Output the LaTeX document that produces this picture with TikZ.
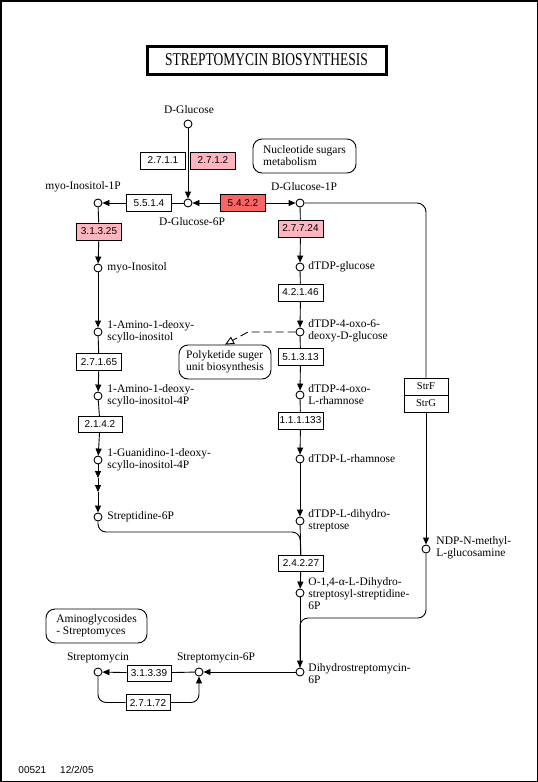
\documentclass[tikz,border=0pt]{standalone}
\usepackage{fontspec}
\usepackage{graphicx}
\setmainfont{Liberation Serif}
\setsansfont{Liberation Sans}
\usetikzlibrary{arrows.meta}
\definecolor{ecpink}{RGB}{255,180,190}
\definecolor{ecred}{RGB}{250,100,100}
\tikzset{
  cpd/.style={circle,draw,fill=white,inner sep=0pt,minimum size=8pt,line width=0.9pt},
  ec/.style={draw,fill=white,inner sep=0pt,minimum width=45pt,minimum height=17pt,line width=0.9pt,font=\sffamily\fontsize{10}{10}\selectfont},
  lbl/.style={inner sep=0pt,align=left,font=\fontsize{11.5}{12}\selectfont},
  mapbox/.style={draw,rounded corners=9pt,inner sep=0pt,align=left,line width=0.9pt,font=\fontsize{11.5}{12}\selectfont},
  arr/.style={-{Triangle[length=7pt,width=6pt]}},
  openarr/.style={-{Triangle[open,length=9pt,width=8pt]}},
  conn/.style={line width=0.9pt},
}
\begin{document}
\begin{tikzpicture}[x=1pt,y=-1pt,conn]
\useasboundingbox (0,0) rectangle (538,782);
\draw[line width=1.5pt] (0.75,0.75) rectangle (537.25,781.25);
% title
\node[draw,line width=3pt,minimum width=239pt,minimum height=28pt,inner sep=0pt] (title) at (266.5,60)
  {\scalebox{0.75}[1]{\fontsize{18}{18}\selectfont STREPTOMYCIN BIOSYNTHESIS}};
% compounds
\node[cpd] (glc) at (188,124) {};
\node[cpd] (g6p) at (188,203) {};
\node[cpd] (g1p) at (300,203) {};
\node[cpd] (mi1p) at (98,203) {};
\node[cpd] (mi) at (98,268) {};
\node[cpd] (aminoi) at (98,332) {};
\node[cpd] (amino4p) at (98,396) {};
\node[cpd] (guan) at (98,460) {};
\node[cpd] (strep6p) at (98,517) {};
\node[cpd] (dtdpg) at (300,267) {};
\node[cpd] (oxo6) at (300,332) {};
\node[cpd] (oxoL) at (300,395) {};
\node[cpd] (rham) at (300,459) {};
\node[cpd] (dihydro) at (300,521) {};
\node[cpd] (o14) at (300,593) {};
\node[cpd] (dhs6p) at (300,672) {};
\node[cpd] (s6p) at (199,672) {};
\node[cpd] (strep) at (98,672) {};
\node[cpd] (ndp) at (426,549) {};
% compound labels
\node[lbl] (lglc) at (189,110) {D-Glucose};
\node[lbl] (lmi1p) at (83,187) {myo-Inositol-1P};
\node[lbl] (lg1p) at (304,187) {D-Glucose-1P};
\node[lbl] (lg6p) at (192,222) {D-Glucose-6P};
\node[lbl,anchor=west] (lmi) at (107,268) {myo-Inositol};
\node[lbl,anchor=west] (laminoi) at (107,332) {1-Amino-1-deoxy-\\scyllo-inositol};
\node[lbl,anchor=west] (lamino4p) at (107,396) {1-Amino-1-deoxy-\\scyllo-inositol-4P};
\node[lbl,anchor=west] (lguan) at (107,460) {1-Guanidino-1-deoxy-\\scyllo-inositol-4P};
\node[lbl,anchor=west] (lstrep6p) at (107,517) {Streptidine-6P};
\node[lbl,anchor=west] (ldtdpg) at (308,267) {dTDP-glucose};
\node[lbl,anchor=west] (loxo6) at (308,331) {dTDP-4-oxo-6-\\deoxy-D-glucose};
\node[lbl,anchor=west] (loxoL) at (308,395) {dTDP-4-oxo-\\L-rhamnose};
\node[lbl,anchor=west] (lrham) at (308,459) {dTDP-L-rhamnose};
\node[lbl,anchor=west] (ldihydro) at (308,521) {dTDP-L-dihydro-\\streptose};
\node[lbl,anchor=west] (lo14) at (308,594) {O-1,4-α-L-Dihydro-\\streptosyl-streptidine-\\6P};
\node[lbl,anchor=west] (ldhs6p) at (308,674) {Dihydrostreptomycin-\\6P};
\node[lbl,anchor=west] (lndp) at (436,548) {NDP-N-methyl-\\L-glucosamine};
\node[lbl] (lstrep) at (98,658) {Streptomycin};
\node[lbl] (ls6p) at (216,658) {Streptomycin-6P};
% enzymes
\node[ec] (e2711) at (163,160.5) {2.7.1.1};
\node[ec,fill=ecpink] (e2712) at (213,160.5) {2.7.1.2};
\node[ec] (e5514) at (149,203) {5.5.1.4};
\node[ec,fill=ecred] (e5422) at (243,203) {5.4.2.2};
\node[ec,fill=ecpink] (e31325) at (99,231.5) {3.1.3.25};
\node[ec] (e27165) at (99,362) {2.7.1.65};
\node[ec,minimum width=44pt,minimum height=16pt] (e2142) at (100,424.5) {2.1.4.2};
\node[ec,fill=ecpink] (e27724) at (300.5,228.5) {2.7.7.24};
\node[ec] (e42146) at (300.5,292.5) {4.2.1.46};
\node[ec] (e51313) at (300.5,357) {5.1.3.13};
\node[ec] (e111133) at (300.5,420.5) {1.1.1.133};
\node[ec,minimum height=16pt] (e24227) at (301,563.5) {2.4.2.27};
\node[ec,minimum width=44pt,minimum height=16pt] (e31339) at (149,673) {3.1.3.39};
\node[ec,minimum width=44pt,minimum height=16pt] (e27172) at (148,702.5) {2.7.1.72};
\node[ec,minimum width=44pt,minimum height=17pt,font=\fontsize{10.5}{10.5}\selectfont] (strf) at (426,386.5) {StrF};
\node[ec,minimum width=44pt,minimum height=17pt,font=\fontsize{10.5}{10.5}\selectfont] (strg) at (426,403.5) {StrG};
% map boxes
\node[mapbox,minimum width=103pt,minimum height=34pt] (nuc) at (304.5,156) {Nucleotide sugars\\metabolism};
\node[mapbox,minimum width=92pt,minimum height=34pt] (pk) at (225,362) {Polyketide suger\\unit biosynthesis};
\node[mapbox,minimum width=101pt,minimum height=34pt] (amg) at (96.5,626) {Aminoglycosides\\- Streptomyces};
% footer
\node[inner sep=0pt,anchor=west,font=\sffamily\fontsize{10}{10}\selectfont] (foot) at (18,770) {00521\hspace{14pt}12/2/05};
% junction coordinates
\coordinate (m1) at (98,478);
\coordinate (m2) at (98,492);
\coordinate (jn1) at (300,532);
\coordinate (jn2) at (300,618);
\coordinate (cr1) at (426,203);
\coordinate (dc) at (248,332);
% connectors
\draw[arr] (glc) -- (g6p);
\draw (g6p) -- (e5514);
\draw[arr] (e5514) -- (mi1p);
\draw[arr] (e5422) -- (g6p);
\draw[arr] (e5422) -- (g1p);
\draw (mi1p) -- (e31325);
\draw[arr] (e31325) -- (mi);
\draw[arr] (mi) -- (aminoi);
\draw (aminoi) -- (e27165);
\draw[arr] (e27165) -- (amino4p);
\draw (amino4p) -- (e2142);
\draw[arr] (e2142) -- (guan);
\draw[arr] (guan) -- (m1);
\draw[arr] (m1) -- (m2);
\draw[arr] (m2) -- (strep6p);
\draw[rounded corners=8pt] (strep6p) |- (jn1) -- (e24227);
\draw (g1p) -- (e27724);
\draw[arr] (e27724) -- (dtdpg);
\draw (dtdpg) -- (e42146);
\draw[arr] (e42146) -- (oxo6);
\draw (oxo6) -- (e51313);
\draw[arr] (e51313) -- (oxoL);
\draw (oxoL) -- (e111133);
\draw[arr] (e111133) -- (rham);
\draw[arr] (rham) -- (dihydro);
\draw (dihydro) -- (e24227);
\draw[arr] (e24227) -- (o14);
\draw[arr] (o14) -- (dhs6p);
\draw[rounded corners=9pt] (g1p) -- (cr1) -- (strf);
\draw[arr] (strg) -- (ndp);
\draw[rounded corners=8pt] (ndp) |- (jn2) -- (dhs6p);
\draw[arr] (dhs6p) -- (s6p);
\draw (s6p) -- (e31339);
\draw[arr] (e31339) -- (strep);
\draw[rounded corners=8pt] (strep) |- (e27172);
\draw[arr,rounded corners=8pt] (e27172) -| (s6p);
\draw[dashed,dash pattern=on 8pt off 4pt,openarr] (oxo6) -- (dc) -- (pk.north);
\end{tikzpicture}
\end{document}
